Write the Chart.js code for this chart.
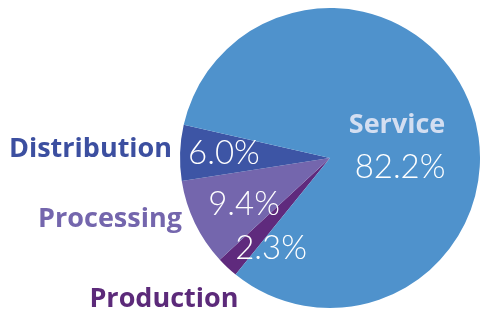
<!DOCTYPE html>
<html>
<head>
<meta charset="utf-8">
<script src="https://cdn.jsdelivr.net/npm/chart.js@4/dist/chart.umd.min.js"></script>
<style>
  html, body { margin: 0; padding: 0; background: #fff; }
  #wrap { width: 480px; height: 314px; position: relative; }
</style>
</head>
<body>
<div id="wrap"><canvas id="pieChart"></canvas></div>
<script>
// * data
const sectors = ["Production", "Processing", "Distribution", "Service"];
const shares = [2.3, 9.4, 6.0, 82.2];
const sliceColors = ["#5f2a7d", "#7466ad", "#3d55a5", "#4f92cc"];
const nameColors = ["#5c2a7a", "#7466ad", "#3c4fa0", "#d3def1"];

// label spots, in units of the pie radius from its centre
const namePos = [
  { x: -1.107, y: 0.94, align: "center" },
  { x: -0.987, y: 0.41, align: "right" },
  { x: -1.053, y: -0.06, align: "right" },
  { x: 0.447, y: -0.215, align: "center" },
];
const pctPos = [
  { x: -0.393, y: 0.6 },
  { x: -0.573, y: 0.307 },
  { x: -0.707, y: -0.033 },
  { x: 0.467, y: 0.06 },
];

const pieLabels = {
  id: "pieLabels",
  afterDatasetsDraw(chart) {
    const ctx = chart.ctx;
    const arcs = chart.getDatasetMeta(0).data;
    const cx = arcs[0].x;
    const cy = arcs[0].y;
    const r = arcs[0].outerRadius;
    ctx.save();
    ctx.textBaseline = "middle";
    sectors.forEach((s, i) => {
      ctx.font = "bold 27px 'Open Sans'";
      ctx.fillStyle = nameColors[i];
      ctx.textAlign = namePos[i].align;
      ctx.fillText(s, cx + namePos[i].x * r, cy + namePos[i].y * r);

      ctx.font = "300 33px Lato";
      ctx.fillStyle = "#ffffff";
      ctx.textAlign = "center";
      ctx.fillText(shares[i].toFixed(1) + "%", cx + pctPos[i].x * r, cy + pctPos[i].y * r);
    });
    ctx.restore();
  },
};

const pieCanvas = document.getElementById("pieChart").getContext("2d");
const pieChart = new Chart(pieCanvas, {
  type: "pie",
  data: {
    labels: sectors,
    datasets: [
      {
        data: shares,
        backgroundColor: sliceColors,
        borderWidth: 0,
      },
    ],
  },
  options: {
    responsive: true,
    maintainAspectRatio: false,
    animation: false,
    rotation: 219,
    layout: { padding: { left: 180, right: 0, top: 8, bottom: 6 } },
    plugins: {
      legend: { display: false },
      tooltip: { enabled: false },
    },
  },
  plugins: [pieLabels],
});
</script>
</body>
</html>
